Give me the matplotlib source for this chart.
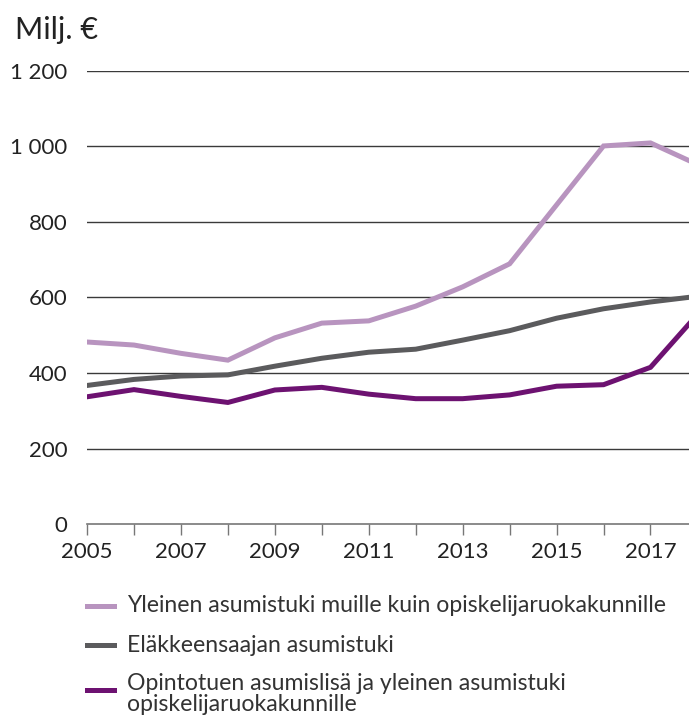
import matplotlib.pyplot as plt
from matplotlib.lines import Line2D

years = [2005, 2006, 2007, 2008, 2009, 2010, 2011, 2012, 2013, 2014, 2015, 2016, 2017, 2018]
yleinen = [482, 474, 452, 434, 493, 532, 538, 577, 628, 689, 845, 1001, 1009, 952]
elake = [367, 383, 392, 395, 418, 439, 455, 463, 487, 512, 545, 570, 588, 603]
opinto = [337, 356, 338, 322, 355, 362, 344, 332, 332, 342, 365, 369, 415, 555]

labels = ["Yleinen asumistuki muille kuin opiskelijaruokakunnille",
          "Eläkkeensaajan asumistuki",
          "Opintotuen asumislisä ja yleinen asumistuki\nopiskelijaruokakunnille"]
colors = ["#b894bf", "#5b5b5d", "#6d1271"]

plt.rcParams['font.family'] = ['Lato', 'DejaVu Sans']

fig = plt.figure(figsize=(6.89, 7.15), dpi=100)
ax = fig.add_axes([0.1263, 0.267, 0.8737, 0.634])

for serie, col in zip([yleinen, elake, opinto], colors):
    ax.plot(years, serie, color=col, lw=3.6, solid_joinstyle='miter', zorder=3)

ax.set_xlim(2005, 2017.82)
ax.set_ylim(0, 1200)
ax.set_yticks(range(0, 1201, 200))
ax.set_yticklabels(["0", "200", "400", "600", "800", "1 000", "1 200"])
ax.set_xticks(range(2005, 2018))
ax.set_xticklabels([str(y) if (y - 2005) % 2 == 0 else "" for y in range(2005, 2018)])

for v in range(200, 1201, 200):
    ax.axhline(v, color="#3a3a3a", lw=1, zorder=1)

for s in ["top", "right", "left"]:
    ax.spines[s].set_visible(False)
ax.spines["bottom"].set_color("#777777")
ax.spines["bottom"].set_linewidth(1.2)
ax.tick_params(axis="x", direction="out", length=8, width=1, color="#777777",
               labelsize=16, pad=5, labelcolor="#222222")
ax.tick_params(axis="y", length=0, labelsize=16, pad=14, labelcolor="#222222")
ax.patch.set_visible(False)

fig.text(15 / 689, 1 - 30 / 715, "Milj. €", fontsize=22, va="center", ha="left", color="#222222")

# legend
handle_y = [606, 645, 690]
text_y = [606, 645, 694]
for lab, col, hy, ty in zip(labels, colors, handle_y, text_y):
    fig.add_artist(Line2D([87 / 689, 114 / 689], [1 - hy / 715, 1 - hy / 715],
                          color=col, lw=3.6, transform=fig.transFigure))
    fig.text(127 / 689, 1 - ty / 715, lab, fontsize=16.6, va="center", ha="left",
             color="#333333", linespacing=0.95)

fig.savefig("out.png", dpi=100)
